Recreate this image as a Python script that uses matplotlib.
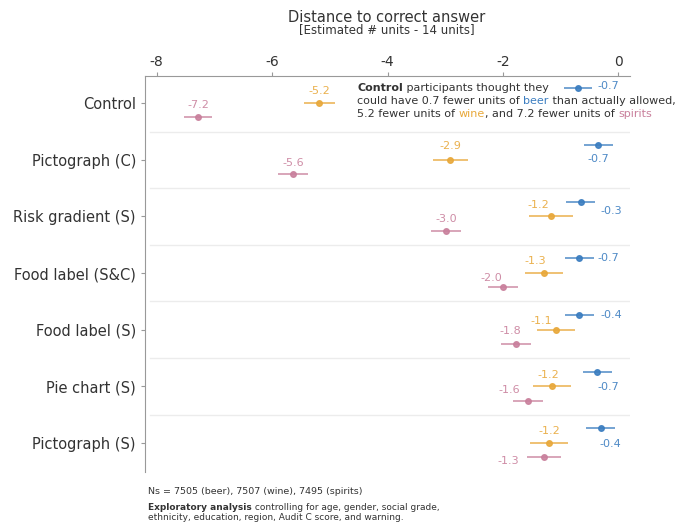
import numpy as np
import matplotlib
matplotlib.use("Agg")
import matplotlib.pyplot as plt

plt.rcParams['font.family'] = ['DejaVu Sans']
plt.rcParams['axes.unicode_minus'] = False

# data
groups = ["Control", "Pictograph (C)", "Risk gradient (S)", "Food label (S&C)",
          "Food label (S)", "Pie chart (S)", "Pictograph (S)"]
beer = [-0.70, -0.35, -0.65, -0.68, -0.68, -0.37, -0.31]
wine = [-5.18, -2.91, -1.17, -1.29, -1.08, -1.15, -1.20]
spirits = [-7.28, -5.63, -2.98, -2.00, -1.78, -1.57, -1.29]
beer_err = [0.25, 0.25, 0.25, 0.25, 0.25, 0.25, 0.25]
wine_err = [0.27, 0.30, 0.38, 0.33, 0.33, 0.33, 0.33]
spirits_err = [0.24, 0.26, 0.26, 0.26, 0.26, 0.26, 0.30]
beer_lbl = ["-0.7", "-0.7", "-0.3", "-0.7", "-0.4", "-0.7", "-0.4"]
wine_lbl = ["-5.2", "-2.9", "-1.2", "-1.3", "-1.1", "-1.2", "-1.2"]
spirits_lbl = ["-7.2", "-5.6", "-3.0", "-2.0", "-1.8", "-1.6", "-1.3"]

c_beer = "#3b7dc0"
c_wine = "#e8a83a"
c_spir = "#c9809c"
c_txt = "#333333"

fig = plt.figure(figsize=(6.78, 5.32), dpi=100)
ax = fig.add_axes([145/678, 1-472/532, 485/678, 396/532])

y = np.arange(len(groups))
off = {"beer": -0.26, "wine": 0.0, "spirits": 0.25}

for vals, errs, col, k in [(beer, beer_err, c_beer, "beer"),
                           (wine, wine_err, c_wine, "wine"),
                           (spirits, spirits_err, c_spir, "spirits")]:
    ax.errorbar(vals, y + off[k], xerr=errs, fmt="o", color=col, ms=4,
                elinewidth=1.1, capsize=0, alpha=0.9, zorder=3)

# label offsets in points (dx, dy, ha)
beer_pos = [(14, 2, "left"), (0, -10, "center"), (14, -7, "left"), (13, 0, "left"),
            (15, 0, "left"), (8, -11, "center"), (7, -11.5, "center")]
wine_pos = [(0, 9, "center"), (0, 10, "center"), (-9, 8, "center"), (-6, 8.5, "center"),
            (-11, 6.5, "center"), (-3, 8.5, "center"), (0, 8.5, "center")]
spir_pos = [(0, 9, "center"), (0, 8, "center"), (0, 8.5, "center"), (-8.5, 7, "center"),
            (-4, 9, "center"), (-13, 8, "center"), (-26, -3, "center")]

for i in range(len(groups)):
    for vals, lbls, pos, col, k in [(beer, beer_lbl, beer_pos, c_beer, "beer"),
                                    (wine, wine_lbl, wine_pos, c_wine, "wine"),
                                    (spirits, spirits_lbl, spir_pos, c_spir, "spirits")]:
        dx, dy, ha = pos[i]
        ax.annotate(lbls[i], (vals[i], y[i] + off[k]), xytext=(dx, dy),
                    textcoords="offset points", ha=ha, va="center",
                    fontsize=8, color=col, alpha=0.9)

# row separators
for s in y[:-1] + 0.5:
    ax.axhline(s, xmin=0.01, xmax=1.0, color="#ececec", lw=1, zorder=1)

ax.set_xlim(-8.2, 0.2)
ax.set_ylim(6.51, -0.48)
ax.set_yticks(y)
ax.set_yticklabels(groups, fontsize=10.5, color=c_txt)
ax.set_xticks([-8, -6, -4, -2, 0])
ax.xaxis.tick_top()
ax.tick_params(axis="x", labelsize=10, colors=c_txt, length=3, color="#999999", pad=2)
ax.tick_params(axis="y", length=3, color="#999999")
for sp in ["right", "bottom"]:
    ax.spines[sp].set_visible(False)
for sp in ["top", "left"]:
    ax.spines[sp].set_color("#999999")

fig.text(387/678, 1 - 17/532, "Distance to correct answer", fontsize=10.5,
         color=c_txt, ha="center", va="center")
fig.text(387/678, 1 - 30/532, "[Estimated # units - 14 units]", fontsize=8.5,
         color=c_txt, ha="center", va="center")

r = fig.canvas.get_renderer()

def chunks(x, yy, parts, fs):
    x0 = x
    for txt, col, wt in parts:
        t = fig.text(x0, yy, txt, fontsize=fs, color=col, va="center", fontweight=wt)
        bb = t.get_window_extent(renderer=r)
        x0 += bb.width / fig.bbox.width

# annotation for control row
tx = 357 / 678
chunks(tx, 1 - 88/532, [("Control", c_txt, "bold"), (" participants thought they", c_txt, "normal")], 8)
chunks(tx, 1 - 101/532, [("could have 0.7 fewer units of ", c_txt, "normal"), ("beer", c_beer, "normal"),
                         (" than actually allowed,", c_txt, "normal")], 8)
chunks(tx, 1 - 114/532, [("5.2 fewer units of ", c_txt, "normal"), ("wine", c_wine, "normal"),
                         (", and 7.2 fewer units of ", c_txt, "normal"), ("spirits", c_spir, "normal")], 8)

fig.text(148/678, 1 - 491/532, "Ns = 7505 (beer), 7507 (wine), 7495 (spirits)",
         fontsize=6.8, color=c_txt, va="center")
chunks(148/678, 1 - 507/532, [("Exploratory analysis", c_txt, "bold"),
                              (" controlling for age, gender, social grade,", c_txt, "normal")], 6.5)
fig.text(148/678, 1 - 517/532, "ethnicity, education, region, Audit C score, and warning.",
         fontsize=6.5, color=c_txt, va="center")

fig.savefig("out.png", dpi=100)
